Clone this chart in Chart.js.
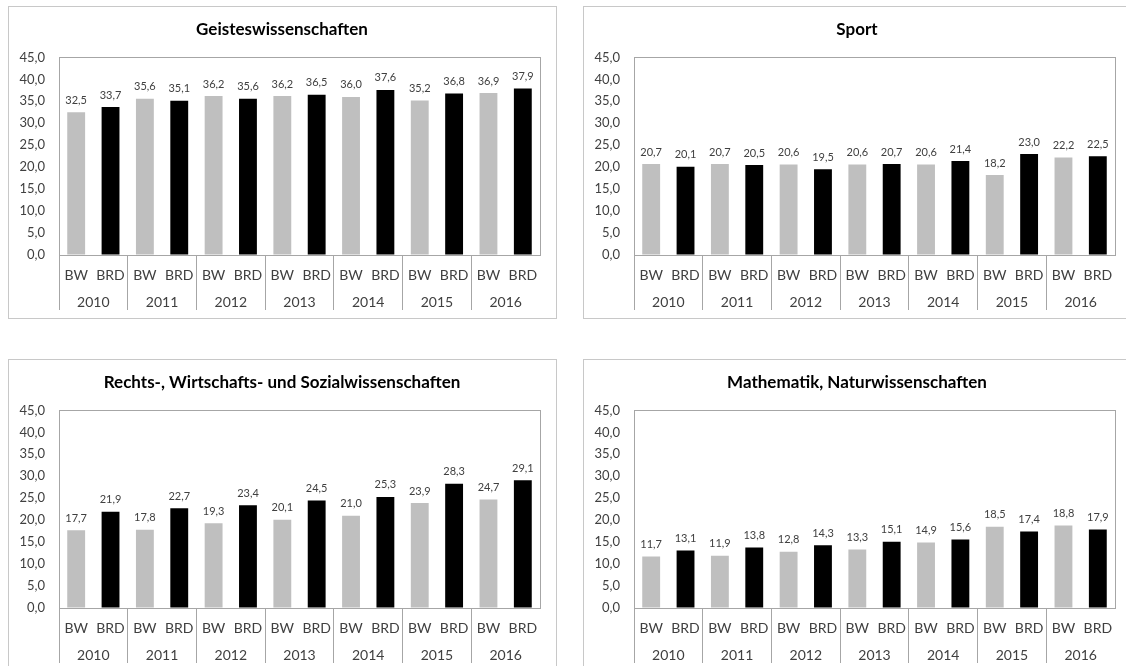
<!DOCTYPE html>
<html>
<head>
<meta charset="utf-8">
<script src="https://cdn.jsdelivr.net/npm/chart.js@4.4.1/dist/chart.umd.min.js"></script>
<style>
  html, body { margin: 0; padding: 0; background: #fff; width: 1126px; height: 666px; overflow: hidden; position: relative; }
  .frame { position: absolute; border: 1px solid #c8c8c8; box-sizing: border-box; }
  canvas { position: absolute; }
</style>
</head>
<body>
<div class="frame" style="left:8px;top:6px;width:549px;height:313px"></div>
<div class="frame" style="left:583px;top:6px;width:570px;height:313px"></div>
<div class="frame" style="left:8px;top:359px;width:549px;height:330px"></div>
<div class="frame" style="left:583px;top:359px;width:570px;height:330px"></div>
<canvas id="c1" width="548" height="312" style="left:8px;top:6px"></canvas>
<canvas id="c2" width="548" height="312" style="left:583px;top:6px"></canvas>
<canvas id="c3" width="548" height="312" style="left:8px;top:359px"></canvas>
<canvas id="c4" width="548" height="312" style="left:583px;top:359px"></canvas>
<script>
// Categories
const years = ['2010', '2011', '2012', '2013', '2014', '2015', '2016'];
const regions = ['BW', 'BRD'];

// Shares in percent, per subject group: Baden-Württemberg (BW) and Bundesrepublik (BRD)
const geistBW  = [32.5, 35.6, 36.2, 36.2, 36.0, 35.2, 36.9];
const geistBRD = [33.7, 35.1, 35.6, 36.5, 37.6, 36.8, 37.9];

const sportBW  = [20.7, 20.7, 20.6, 20.6, 20.6, 18.2, 22.2];
const sportBRD = [20.1, 20.5, 19.5, 20.7, 21.4, 23.0, 22.5];

const rechtBW  = [17.7, 17.8, 19.3, 20.1, 21.0, 23.9, 24.7];
const rechtBRD = [21.9, 22.7, 23.4, 24.5, 25.3, 28.3, 29.1];

const mathBW   = [11.7, 11.9, 12.8, 13.3, 14.9, 18.5, 18.8];
const mathBRD  = [13.1, 13.8, 14.3, 15.1, 15.6, 17.4, 17.9];

// Value axis
const yMin = 0;
const yMax = 45;
const yStep = 5;

const GRAY = '#bfbfbf';
const BLACK = '#000000';
const TEXT = '#404040';
const AXIS = '#a6a6a6';

Chart.defaults.font.family = 'Lato';
Chart.defaults.color = TEXT;

const fmt = v => Number(v).toFixed(1).replace('.', ',');

function interleave(a, b) {
  const out = [];
  a.forEach((v, i) => out.push(v, b[i]));
  return out;
}

// Top edge of the plot frame
const plotFrame = {
  id: 'plotFrame',
  afterDraw(chart) {
    const { ctx, chartArea: a } = chart;
    ctx.save();
    ctx.strokeStyle = AXIS;
    ctx.lineWidth = 1;
    ctx.beginPath();
    ctx.moveTo(a.left, Math.round(a.top) + 0.5);
    ctx.lineTo(a.right, Math.round(a.top) + 0.5);
    ctx.stroke();
    ctx.restore();
  }
};

// Value printed above each bar
const valueLabels = {
  id: 'valueLabels',
  afterDatasetsDraw(chart) {
    const ctx = chart.ctx;
    const ds = chart.data.datasets[0];
    const meta = chart.getDatasetMeta(0);
    ctx.save();
    ctx.font = '11px Lato';
    ctx.fillStyle = TEXT;
    ctx.textAlign = 'center';
    ctx.textBaseline = 'middle';
    meta.data.forEach((bar, i) => {
      ctx.fillText(fmt(ds.data[i]), bar.x, bar.y - 12);
    });
    ctx.restore();
  }
};

function makeChart(id, title, bw, brd) {
  const labels = years.flatMap(() => regions);
  const values = interleave(bw, brd);
  const colors = values.map((_, i) => (i % 2 === 0 ? GRAY : BLACK));

  return new Chart(document.getElementById(id), {
    type: 'bar',
    data: {
      labels: labels,
      datasets: [{
        data: values,
        backgroundColor: colors,
        borderWidth: 0,
        categoryPercentage: 1,
        barPercentage: 0.52
      }]
    },
    options: {
      responsive: false,
      animation: false,
      devicePixelRatio: 1,
      layout: { padding: { left: 0, right: 0, top: 0, bottom: 4 } },
      plugins: {
        legend: { display: false },
        tooltip: { enabled: false },
        title: {
          display: true,
          text: title,
          color: '#000',
          font: { family: 'Lato', size: 17, weight: 'bold' },
          padding: { top: 13, bottom: 18 }
        }
      },
      scales: {
        y: {
          position: 'left',
          min: yMin,
          max: yMax,
          ticks: {
            stepSize: yStep,
            padding: 14,
            color: TEXT,
            font: { size: 13 },
            callback: v => fmt(v)
          },
          grid: { display: true, drawOnChartArea: false, drawTicks: false },
          border: { display: true, color: AXIS, width: 1 },
          afterFit: s => { s.width = 51; }
        },
        yR: {
          position: 'right',
          display: true,
          ticks: { display: false },
          grid: { display: true, drawOnChartArea: false, drawTicks: false },
          border: { display: true, color: AXIS, width: 1 },
          afterFit: s => { s.width = 16; }
        },
        x: {
          position: 'bottom',
          offset: true,
          ticks: { padding: -43, color: TEXT, font: { size: 14 }, maxRotation: 0, autoSkip: false },
          grid: {
            display: true,
            offset: true,
            drawOnChartArea: false,
            drawTicks: true,
            tickLength: 55,
            color: ctx => (ctx.index % 2 === 0 ? AXIS : 'rgba(0,0,0,0)')
          },
          border: { display: true, color: AXIS, width: 1 },
          afterFit: s => { s.height = 27; }
        },
        x2: {
          type: 'category',
          position: 'bottom',
          labels: years,
          offset: true,
          ticks: { padding: 12, color: TEXT, font: { size: 14 }, maxRotation: 0, autoSkip: false },
          grid: { display: false, drawTicks: false },
          border: { display: false },
          afterFit: s => { s.height = 32; }
        }
      }
    },
    plugins: [plotFrame, valueLabels]
  });
}

makeChart('c1', 'Geisteswissenschaften', geistBW, geistBRD);
makeChart('c2', 'Sport', sportBW, sportBRD);
makeChart('c3', 'Rechts-, Wirtschafts- und Sozialwissenschaften', rechtBW, rechtBRD);
makeChart('c4', 'Mathematik, Naturwissenschaften', mathBW, mathBRD);
</script>
</body>
</html>
